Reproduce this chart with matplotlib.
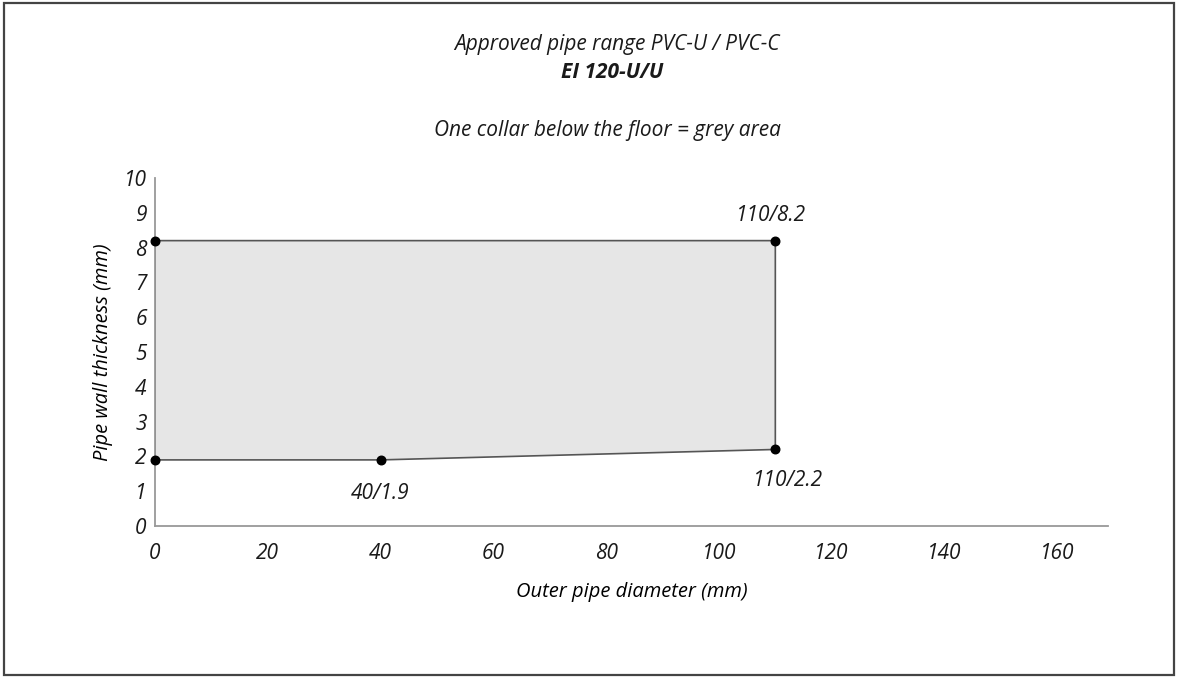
import matplotlib.pyplot as plt
from matplotlib.patches import Polygon, Rectangle

# corner points of the approved area (outer diameter mm, wall thickness mm)
outer_diameter = [0, 40, 110, 110, 0]
wall_thickness = [1.9, 1.9, 2.2, 8.2, 8.2]

# labelled points
label_x = [110, 40, 110]
label_y = [8.2, 1.9, 2.2]
label_text = ['110/8.2', '40/1.9', '110/2.2']

x_ticks = [0, 20, 40, 60, 80, 100, 120, 140, 160]
y_ticks = list(range(11))

plt.rcParams['font.family'] = ['Open Sans', 'DejaVu Sans']

fig = plt.figure(figsize=(11.78, 6.77), dpi=100)
ax = fig.add_axes([0.1316, 0.2230, 0.8090, 0.5141])

# frame around the whole picture
fig.patches.append(Rectangle((0.003, 0.003), 0.994, 0.993, transform=fig.transFigure,
                             fill=False, edgecolor='#444444', linewidth=1.6))

pts = list(zip(outer_diameter, wall_thickness))
ax.add_patch(Polygon(pts, closed=True, facecolor='#e6e6e6', edgecolor='#555555',
                     linewidth=1.2, zorder=2))
ax.scatter(outer_diameter, wall_thickness, s=38, color='black', zorder=3, clip_on=False)

offsets = [(-3, 18), (0, -24), (9, -22)]
for x, y, t, off in zip(label_x, label_y, label_text, offsets):
    ax.annotate(t, (x, y), xytext=off, textcoords='offset points', ha='center',
                va='center', fontsize=15, style='italic', color='#1a1a1a')

ax.set_xlim(0, 169)
ax.set_ylim(0, 10)
ax.set_xticks(x_ticks)
ax.set_yticks(y_ticks)
ax.tick_params(length=0, labelsize=15, colors='#1a1a1a')
ax.tick_params(axis='y', pad=6)
ax.tick_params(axis='x', pad=12)
for lab in ax.get_xticklabels() + ax.get_yticklabels():
    lab.set_style('italic')
for s in ['top', 'right']:
    ax.spines[s].set_visible(False)
for s in ['left', 'bottom']:
    ax.spines[s].set_color('#999999')
    ax.spines[s].set_linewidth(1.3)

ax.set_xlabel('Outer pipe diameter (mm)', fontsize=14.5, style='italic', labelpad=13)
ax.set_ylabel('Pipe wall thickness (mm)', fontsize=14.5, style='italic', labelpad=8)

fig.text(0.524, 0.935, 'Approved pipe range PVC-U / PVC-C', ha='center', va='center',
         fontsize=15, style='italic', color='#1a1a1a')
fig.text(0.52, 0.893, 'EI 120-U/U', ha='center', va='center', fontsize=15,
         style='italic', weight='bold', color='#1a1a1a')
fig.text(0.516, 0.807, 'One collar below the floor = grey area', ha='center', va='center',
         fontsize=15, style='italic', color='#1a1a1a')

fig.savefig('out.png', dpi=100)
